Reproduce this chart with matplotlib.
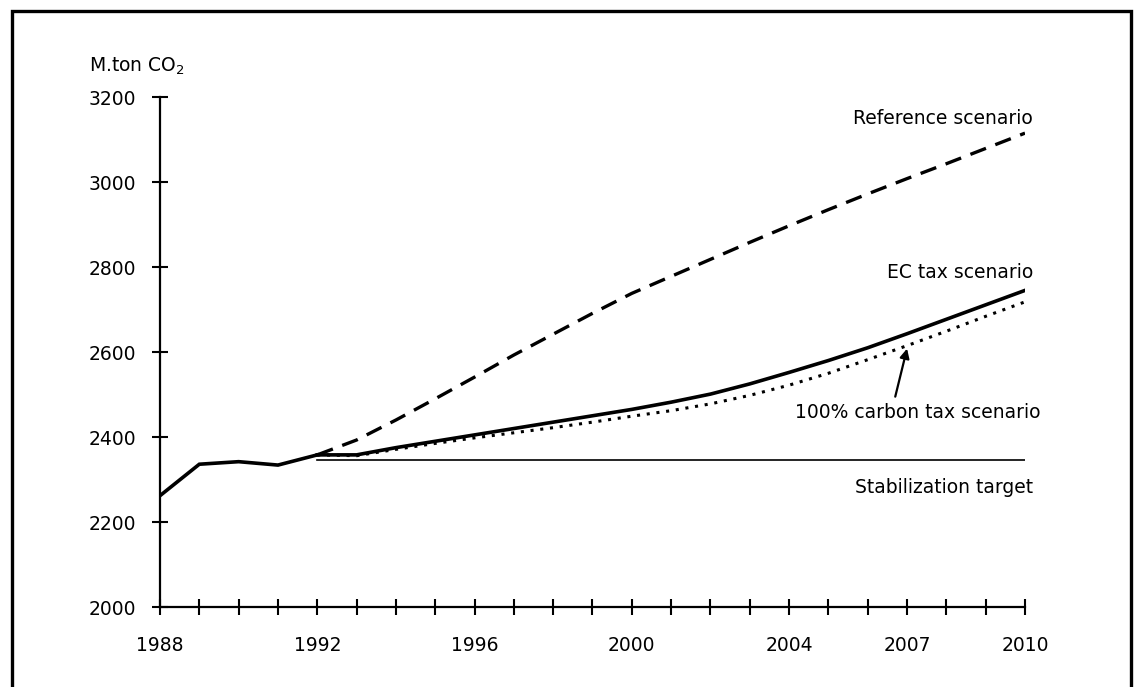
import numpy as np
import matplotlib.pyplot as plt
from matplotlib.patches import Rectangle

plt.rcParams['font.family'] = ['DejaVu Sans']

# historical emissions (M.ton CO2)
hist_years = [1988, 1989, 1990, 1991, 1992]
hist_vals = [2262, 2336, 2342, 2334, 2358]

# scenario years
scen_years = list(range(1992, 2011))
ref_vals = [2358, 2393, 2440, 2490, 2541, 2593, 2642, 2691, 2738, 2778,
            2818, 2858, 2897, 2935, 2972, 3008, 3043, 3079, 3115]
ec_vals = [2358, 2358, 2375, 2390, 2405, 2420, 2435, 2450, 2465, 2482,
           2501, 2525, 2552, 2580, 2610, 2643, 2677, 2711, 2745]
carbon_vals = [2358, 2356, 2371, 2385, 2398, 2410, 2422, 2435, 2449, 2462,
               2478, 2498, 2522, 2550, 2582, 2615, 2649, 2684, 2718]
target_years = [1992, 2010]
target_vals = [2345, 2345]

yticks = [2000, 2200, 2400, 2600, 2800, 3000, 3200]
xtick_labels = [1988, 1992, 1996, 2000, 2004, 2007, 2010]

fs = 13.5

fig = plt.figure(figsize=(11.38, 6.87), dpi=100)
ax = fig.add_axes([0.1406, 0.1164, 0.7601, 0.7424])

ax.plot(hist_years, hist_vals, color='black', lw=2.6, solid_joinstyle='miter')
ax.plot(scen_years, ref_vals, color='black', lw=2.4, dashes=(5, 3))
ax.plot(scen_years, ec_vals, color='black', lw=2.6)
ax.plot(scen_years, carbon_vals, color='black', lw=2.2, dashes=(1, 2.2))
ax.plot(target_years, target_vals, color='black', lw=1.2)

ax.set_xlim(1988, 2010)
ax.set_ylim(2000, 3200)
ax.set_xticks(range(1988, 2011))
ax.set_xticklabels([str(y) if y in xtick_labels else '' for y in range(1988, 2011)])
ax.set_yticks(yticks)

for s in ['top', 'right']:
    ax.spines[s].set_visible(False)
for s in ['left', 'bottom']:
    ax.spines[s].set_linewidth(1.6)
    ax.spines[s].set_color('black')
ax.tick_params(direction='inout', length=12, width=1.5, labelsize=fs, colors='black')
ax.tick_params(axis='y', pad=11)
ax.tick_params(axis='x', pad=15)

ax.text(-0.082, 1.06, 'M.ton CO$_\\mathregular{2}$', transform=ax.transAxes,
        fontsize=fs, ha='left', va='center')

ax.text(2010.2, 3150, 'Reference scenario', fontsize=fs, ha='right', va='center')
ax.text(2010.2, 2788, 'EC tax scenario', fontsize=fs, ha='right', va='center')
ax.text(2010.4, 2458, '100% carbon tax scenario', fontsize=fs, ha='right', va='center')
ax.text(2010.2, 2282, 'Stabilization target', fontsize=fs, ha='right', va='center')

ax.annotate('', xy=(2007.0, 2608), xytext=(2006.7, 2495),
            arrowprops=dict(arrowstyle='-|>', color='black', lw=1.6,
                            mutation_scale=14, shrinkA=0, shrinkB=0))

# outer frame of the scanned figure
fig.patches.append(Rectangle((12 / 1138, -0.05), 1119 / 1138, 1.05 - 11 / 687,
                             transform=fig.transFigure, fill=False,
                             edgecolor='black', lw=2.4))

fig.savefig('out.png', dpi=100)
